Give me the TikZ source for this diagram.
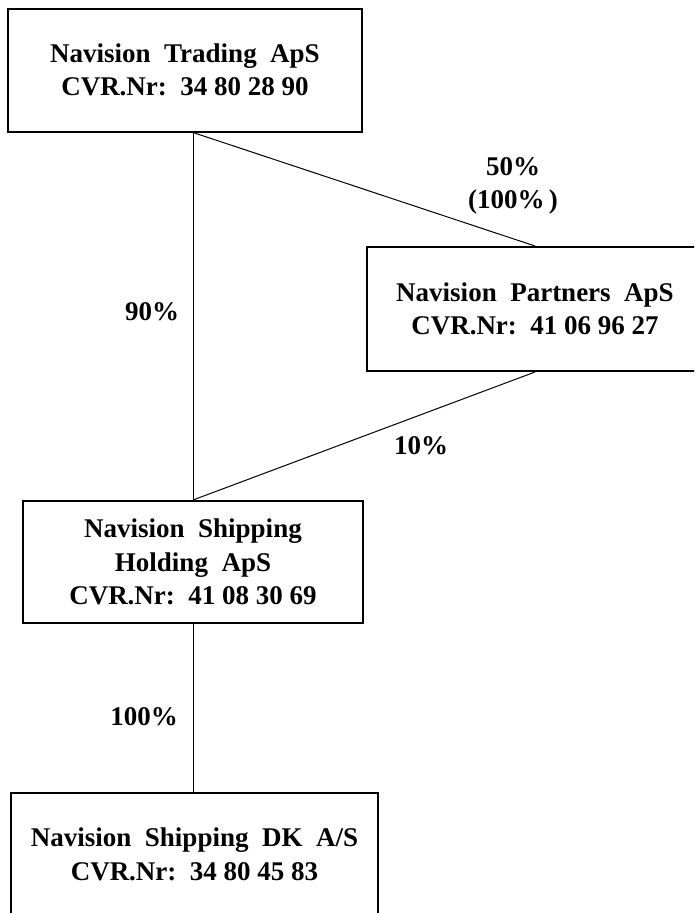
\documentclass[tikz,border=0pt]{standalone}
\usepackage{fontspec}
\setmainfont{Liberation Serif}

\begin{document}
\begin{tikzpicture}[x=1pt,y=-1pt,
    company/.style={draw,line width=2pt,align=center,inner sep=2pt,font=\bfseries\fontsize{27}{33.5}\selectfont},
    share/.style={align=center,inner sep=0pt,font=\bfseries\fontsize{27}{33.5}\selectfont},
    link/.style={line width=1pt}]
  \useasboundingbox (0,0) rectangle (694,913);
  \clip (0,0) rectangle (694,913);
  % companies
  \node[company,minimum width=354pt,minimum height=123pt](trading) at (185,70){Navision~~Trading~~ApS\\CVR.Nr:~~34 80 28 90};
  \node[company,minimum width=336pt,minimum height=124pt](partners) at (535,309){Navision~~Partners~~ApS\\CVR.Nr:~~41 06 96 27};
  \node[company,minimum width=340pt,minimum height=122pt](holding) at (193,562){Navision~~Shipping\\Holding~~ApS\\CVR.Nr:~~41 08 30 69};
  \node[company,minimum width=367pt,minimum height=123pt](dk) at (194.5,854.5){Navision~~Shipping~~DK~~A/S\\CVR.Nr:~~34 80 45 83};
  % ownership lines
  \coordinate (top) at (holding.north |- trading.south);
  \draw[link] (top) -- (holding.north);
  \draw[link] (top) -- (partners.north);
  \draw[link] (partners.south) -- (holding.north);
  \draw[link] (holding.south) -- (holding.south |- dk.north);
  % shares
  \node[share](p50) at (513,186){50\%\\(100\%\,)};
  \node[share](p90) at (152,312){90\%};
  \node[share](p10) at (421,446){10\%};
  \node[share](p100) at (144,717){100\%};
\end{tikzpicture}
\end{document}
